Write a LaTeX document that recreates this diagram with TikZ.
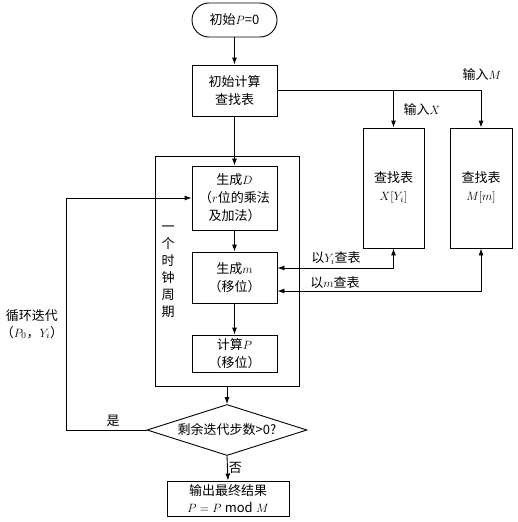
\documentclass[tikz,border=0pt]{standalone}
\usepackage{fontspec}
\setmainfont{Noto Sans CJK SC}
\usepackage{tikz}
\usetikzlibrary{shapes.geometric, positioning, arrows.meta}
\usepackage{amsmath}

\begin{document}
\begin{tikzpicture}[x=1pt, y=-1pt, line width=0.9pt,
    box/.style={draw, align=center, inner sep=1pt, font=\fontsize{13}{18}\selectfont},
    lbl/.style={font=\fontsize{13}{17}\selectfont, inner sep=1pt},
    arr/.style={-{Latex[length=7pt, width=5pt]}},
    dblarr/.style={{Latex[length=7pt, width=5pt]}-{Latex[length=7pt, width=5pt]}}]
    \useasboundingbox (0,0) rectangle (517,522);
                \node[box, rounded corners=17pt, minimum width=85, minimum height=34] (start) at (234.5,20) {初始$P$=0};
                \node[box, minimum width=85, minimum height=51] (init) at (234.5,90.5) {初始计算\\查找表};
                \node[draw, minimum width=144, minimum height=230] (clock) at (227,271) {};
                \node[box, minimum width=85, minimum height=64] (genD) at (234.5,198) {生成$D$\\（$r$位的乘法\\及加法）};
                \node[box, minimum width=85, minimum height=51] (genm) at (234.5,277.5) {生成$m$\\（移位）};
                \node[box, minimum width=85, minimum height=37] (calcP) at (234.5,353.5) {计算$P$\\（移位）};
                \node[box, diamond, aspect=3, inner sep=0pt, minimum width=160, minimum height=51] (cond) at (227,430) {剩余迭代步数>0?};
                \node[box, minimum width=122, minimum height=35, font=\fontsize{13}{17}\selectfont] (out) at (228,498.5) {输出最终结果\\$P = P \bmod M$};
                \node[box, minimum width=61, minimum height=120] (lutx) at (393.5,188) {查找表\\$X[Y_i]$};
                \node[box, minimum width=62, minimum height=120] (lutm) at (481,188) {查找表\\$M[m]$};

                % labels
                \node[lbl, align=center, font=\fontsize{13}{17}\selectfont] (period) at (168,272) {一\\个\\时\\钟\\周\\期};
                \node[lbl] (inM) at (482,75) {输入$M$};
                \node[lbl] (inX) at (422,110) {输入$X$};
                \node[lbl] (byY) at (336,258) {以$Y_i$查表};
                \node[lbl] (bym) at (335,283) {以$m$查表};
                \node[lbl, align=center] (iter) at (32,324) {循环迭代\\（$P_0$，$Y_i$）};

                % main flow
                \draw[arr] (start) -- (init);
                \draw[arr] (init) -- (genD);
                \draw[arr] (genD) -- (genm);
                \draw[arr] (genm) -- (calcP);
                \draw[arr] (clock.south) -- (cond.north);
                \draw[arr] (cond.south) -- (out.north) node[midway, right, lbl] {否};

                % tables
                \coordinate (split) at (lutx.north |- init.east);
                \draw[arr] (init.east) -| (lutm.north);
                \draw[arr] (split) -- (lutx.north);
                \draw[dblarr] ([yshift=9.5]genm.east) -| (lutx.south);
                \draw[dblarr] ([yshift=-13.5]genm.east) -| (lutm.south);

                % loop back
                \coordinate (loop) at (66,430);
                \draw[arr] (cond.west) -- (loop) |- (genD.west);
                \node[lbl] (yes) at (113,421) {是};
            \end{tikzpicture}
\end{document}
